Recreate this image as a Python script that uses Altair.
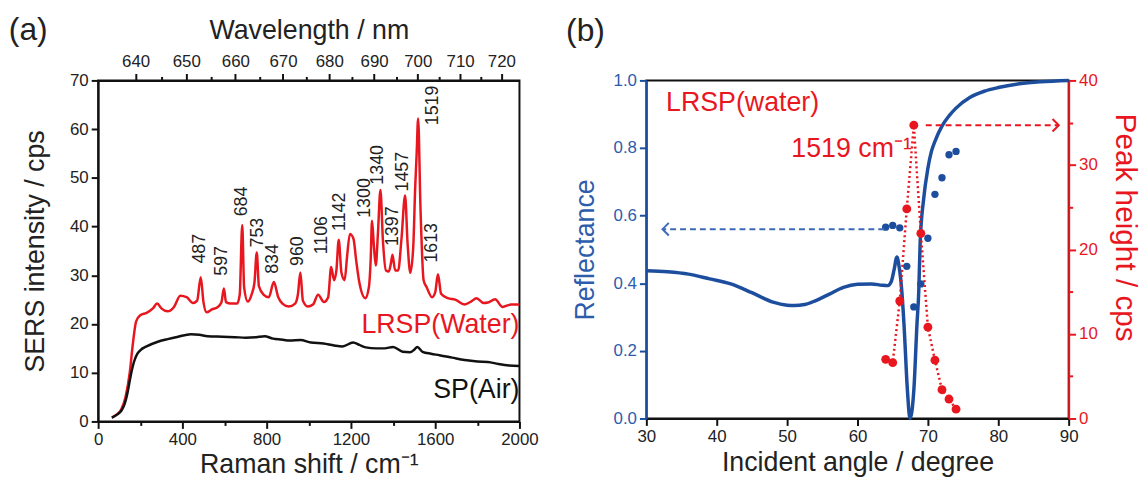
import altair as alt
import pandas as pd

FONT = "Liberation Sans"
RED = "#e8171f"
BLUE = "#1d4e9e"
BLUE_TXT = "#2d5cab"

# ---------------- panel (a): SERS spectra ----------------
raman_lrsp = [65, 90, 110, 130, 150, 165, 180, 200, 230, 260, 280, 300, 330, 360, 390, 420, 450, 470,
              487, 500, 515, 540, 565, 585, 597, 607, 630, 660, 672, 684, 693, 710, 728, 742, 753, 763,
              786, 810, 834, 855, 875, 905, 935, 948, 960, 972, 995, 1020, 1044, 1072, 1092, 1106, 1120,
              1131, 1142, 1155, 1170, 1182, 1195, 1212, 1225, 1240, 1268, 1285, 1294, 1300, 1309, 1318,
              1328, 1340, 1352, 1366, 1380, 1390, 1397, 1410, 1424, 1440, 1457, 1469, 1482, 1496, 1505,
              1512, 1519, 1530, 1545, 1560, 1585, 1600, 1613, 1628, 1660, 1695, 1740, 1770, 1796, 1830,
              1850, 1884, 1920, 1960, 2000]
int_lrsp = [0.8, 1.5, 2.5, 5.0, 10.0, 16.0, 20.5, 21.8, 22.3, 23.2, 24.2, 23.2, 22.6, 23.5, 25.8, 25.5,
            24.3, 24.8, 29.6, 24.5, 22.4, 23.0, 23.4, 24.4, 27.3, 24.5, 24.2, 24.2, 26.0, 40.3, 27.5,
            24.6, 26.0, 28.5, 34.7, 27.8, 26.0, 25.5, 28.6, 25.5, 24.2, 23.6, 24.2, 26.0, 30.6, 24.8,
            23.6, 24.0, 26.0, 24.5, 25.5, 31.7, 29.0, 31.0, 37.3, 30.5, 29.0, 34.0, 38.5, 37.5, 33.0,
            28.5, 25.3, 27.5, 33.5, 41.2, 36.0, 32.0, 38.5, 47.5, 37.0, 31.0, 30.8, 32.5, 34.2, 31.0,
            31.0, 37.5, 46.4, 36.5, 30.5, 36.0, 48.0, 55.0, 62.2, 44.0, 29.0, 27.5, 25.5, 26.5, 30.2,
            26.2, 25.3, 25.0, 24.0, 24.6, 25.3, 24.3, 24.4, 25.1, 23.5, 24.0, 24.0]

raman_sp = [65, 90, 110, 125, 140, 155, 170, 185, 200, 230, 280, 330, 380, 440, 480, 520, 590, 650,
            700, 750, 790, 830, 870, 910, 960, 1010, 1070, 1120, 1160, 1210, 1240, 1270, 1320, 1360,
            1400, 1445, 1480, 1500, 1515, 1540, 1580, 1620, 1680, 1740, 1800, 1850, 1900, 1950, 2000]
int_sp = [0.8, 1.4, 2.2, 3.5, 6.0, 9.5, 12.2, 13.8, 14.6, 15.4, 16.3, 16.9, 17.4, 17.9, 17.8, 17.5,
          17.4, 17.3, 17.2, 17.3, 17.5, 17.0, 16.8, 16.6, 16.7, 16.2, 16.0, 15.6, 15.4, 16.2, 15.7,
          15.2, 15.0, 15.0, 15.3, 14.3, 14.2, 14.7, 15.3, 14.3, 13.9, 13.6, 13.1, 12.6, 12.3, 12.2,
          11.8, 11.5, 11.4]

peak_labels = ["487", "597", "684", "753", "834", "960", "1106", "1142", "1300", "1340", "1397",
               "1457", "1519", "1613"]
peak_label_x = [485, 587, 681, 759, 830, 947, 1065, 1147, 1269, 1329, 1402, 1449, 1591, 1583]
peak_label_y = [32.4, 29.9, 42.1, 35.7, 30.3, 31.9, 34.3, 39.1, 41.8, 48.6, 36.0, 47.2, 60.8, 32.6]

wavelength_ticks = list(range(640, 725, 5))
EXCITATION_NM = 632.8

# ---------------- panel (b): reflectance & peak height ----------------
angle_curve = [30, 33, 36, 39, 42, 45, 48, 50, 51, 52.5, 54, 56, 58, 60, 62, 63.5, 64.3, 64.8, 65.2,
               65.6, 65.9, 66.3, 66.6, 67.1, 67.45, 68.0, 68.45, 68.7, 68.9, 69.4, 70.0, 70.5, 71.0,
               72.0, 73.0, 74.0, 76.0, 78.0, 80.0, 83.0, 86.0, 90.0]
refl_curve = [0.437, 0.434, 0.427, 0.413, 0.398, 0.372, 0.344, 0.335, 0.334, 0.337, 0.348, 0.368,
              0.388, 0.397, 0.398, 0.394, 0.393, 0.405, 0.44, 0.478, 0.45, 0.375, 0.28, 0.08, 0.0,
              0.083, 0.28, 0.375, 0.52, 0.65, 0.74, 0.79, 0.82, 0.865, 0.895, 0.918, 0.95, 0.968,
              0.979, 0.99, 0.996, 1.0]

angle_meas = [64, 65, 66, 67, 68, 69, 70, 71, 72, 73, 74]
refl_meas = [0.566, 0.571, 0.564, 0.45, 0.33, 0.398, 0.533, 0.663, 0.712, 0.78, 0.79]
peak_height = [7.0, 6.6, 13.9, 24.8, 34.7, 21.9, 10.8, 6.9, 3.4, 2.3, 1.1]

# ---------------- shared axis styling ----------------
LBL = 17
TTL = 27


def cond(test, big, small):
    return {"condition": {"test": test, "value": big}, "value": small}


# ================= panel (a) =================
xa = alt.Scale(domain=[0, 2000], nice=False, zero=False)
ya = alt.Scale(domain=[0, 70], nice=False)

x_axis_a = alt.Axis(values=list(range(0, 2001, 200)), format="d",
                    labelExpr="datum.value % 400 == 0 ? datum.label : ''",
                    tickSize=cond("datum.value % 400 == 0", 7, 4),
                    title="Raman shift / cm⁻¹", titlePadding=5)
y_axis_a = alt.Axis(values=list(range(0, 71, 5)),
                    labelExpr="datum.value % 10 == 0 ? datum.label : ''",
                    tickSize=cond("datum.value % 10 == 0", 7, 4),
                    title="SERS intensity / cps", titlePadding=20)

exc = 1e7 / EXCITATION_NM
top_vals = [exc - 1e7 / w for w in wavelength_ticks]
wl_expr = f"round(1e7 / ({exc:.4f} - datum.value))"
x_axis_top = alt.Axis(orient="top", values=top_vals,
                      labelExpr=f"{wl_expr} % 10 == 0 ? format({wl_expr}, 'd') : ''",
                      tickSize=cond(f"{wl_expr} % 10 == 0", 7, 4),
                      title="Wavelength / nm", titlePadding=8)

df_l = pd.DataFrame({"x": raman_lrsp, "y": int_lrsp})
df_s = pd.DataFrame({"x": raman_sp, "y": int_sp})
df_pk = pd.DataFrame({"x": peak_label_x, "y": peak_label_y, "t": peak_labels})

red_a = alt.Chart(df_l).mark_line(color=RED, strokeWidth=2.5, interpolate="monotone").encode(
    x=alt.X("x:Q", scale=xa, axis=x_axis_a), y=alt.Y("y:Q", scale=ya, axis=y_axis_a))
black_a = alt.Chart(df_s).mark_line(color="#111111", strokeWidth=2.5, interpolate="monotone").encode(
    x="x:Q", y="y:Q")
pk_a = alt.Chart(df_pk).mark_text(angle=270, align="left", baseline="middle", fontSize=18,
                                  font=FONT, color="#222222").encode(x="x:Q", y="y:Q", text="t:N")

ann_a = pd.DataFrame({"x": [2000, 2000], "y": [18.1, 4.9], "t": ["LRSP(Water)", "SP(Air)"],
                      "c": [RED, "#111111"]})
txt_a = alt.Chart(ann_a).mark_text(align="right", baseline="alphabetic", fontSize=27, font=FONT).encode(
    x="x:Q", y="y:Q", text="t:N", color=alt.Color("c:N", scale=None))
lab_a = alt.Chart(pd.DataFrame({"x": [-424], "y": [78.3], "t": ["(a)"]})).mark_text(
    align="left", baseline="alphabetic", fontSize=32, font=FONT, color="#222222").encode(
    x="x:Q", y="y:Q", text="t:N")

main_a = alt.layer(red_a, black_a, pk_a, txt_a, lab_a)
top_a = alt.Chart(df_l).mark_line(opacity=0).encode(
    x=alt.X("x:Q", scale=xa, axis=x_axis_top), y=alt.Y("y:Q", scale=ya))

panel_a = alt.layer(main_a, top_a).resolve_axis(x="independent").properties(width=425, height=344)

# ================= panel (b) =================
xb = alt.Scale(domain=[30, 90], nice=False, zero=False)
yb = alt.Scale(domain=[0, 1], nice=False)
yr = alt.Scale(domain=[0, 40], nice=False)

x_axis_b = alt.Axis(values=list(range(30, 91, 5)),
                    labelExpr="datum.value % 10 == 0 ? datum.label : ''",
                    tickSize=cond("datum.value % 10 == 0", 7, 4),
                    title="Incident angle / degree", titlePadding=5)
y_axis_b = alt.Axis(values=[round(i * 0.1, 1) for i in range(11)],
                    labelExpr="round(datum.value * 10) % 2 == 0 ? format(datum.value, '.1f') : ''",
                    tickSize=cond("round(datum.value * 10) % 2 == 0", 7, 4),
                    title="Reflectance", titlePadding=14, domainColor=BLUE, tickColor=BLUE,
                    labelColor=BLUE_TXT, titleColor=BLUE_TXT)
y_axis_r = alt.Axis(orient="right", values=list(range(0, 41, 5)),
                    labelExpr="datum.value % 10 == 0 ? datum.label : ''",
                    tickSize=cond("datum.value % 10 == 0", 7, 4),
                    title="Peak height / cps", titlePadding=12, titleFontSize=30, titleY=148,
                    domainColor=RED, tickColor=RED, labelColor=RED, titleColor=RED)

df_c = pd.DataFrame({"x": angle_curve, "y": refl_curve})
df_m = pd.DataFrame({"x": angle_meas, "r": refl_meas, "p": peak_height})

blue_line = alt.Chart(df_c).mark_line(color=BLUE, strokeWidth=3.5, interpolate="monotone").encode(
    x=alt.X("x:Q", scale=xb, axis=x_axis_b), y=alt.Y("y:Q", scale=yb, axis=y_axis_b))
blue_dots = alt.Chart(df_m).mark_circle(color=BLUE, size=55, opacity=1).encode(x="x:Q", y="r:Q")
blue_arrow = alt.Chart(pd.DataFrame({"x": [63.8], "x2": [32.3], "y": [0.56]})).mark_rule(
    color="#3d6ab8", strokeWidth=2, strokeDash=[6, 4]).encode(x="x:Q", x2="x2", y="y:Q")
blue_head = alt.Chart(pd.DataFrame({"x": [32.3], "y": [0.56]})).mark_point(
    shape="M1,-1L0,0L1,1", filled=False, size=160, strokeWidth=2, color="#3d6ab8", opacity=1).encode(
    x="x:Q", y="y:Q")
ann_b = pd.DataFrame({"x": [32.8, 50.6, 18.6], "y": [0.91, 0.772, 1.116],
                      "t": ["LRSP(water)", "1519 cm⁻¹", "(b)"], "c": [RED, RED, "#222222"],
                      "s": [27, 27, 32]})
txt_b = alt.Chart(ann_b).mark_text(align="left", baseline="alphabetic", font=FONT).encode(
    x="x:Q", y="y:Q", text="t:N", color=alt.Color("c:N", scale=None),
    size=alt.Size("s:Q", scale=None))

left_b = alt.layer(blue_line, blue_dots, blue_arrow, blue_head, txt_b)

red_line = alt.Chart(df_m).mark_line(color=RED, strokeWidth=2.5, strokeDash=[2, 3]).encode(
    x=alt.X("x:Q", scale=xb), y=alt.Y("p:Q", scale=yr, axis=y_axis_r))
red_dots = alt.Chart(df_m).mark_circle(color=RED, size=80, opacity=1).encode(x="x:Q", y="p:Q")
red_arrow = alt.Chart(pd.DataFrame({"x": [69.7], "x2": [88.6], "y": [34.7]})).mark_rule(
    color=RED, strokeWidth=2, strokeDash=[6, 4]).encode(x="x:Q", x2="x2", y="y:Q")
red_head = alt.Chart(pd.DataFrame({"x": [88.6], "y": [34.7]})).mark_point(
    shape="M-1,-1L0,0L-1,1", filled=False, size=160, strokeWidth=2, color=RED, opacity=1).encode(
    x="x:Q", y="y:Q")
right_b = alt.layer(red_line, red_dots, red_arrow, red_head)

panel_b = alt.layer(left_b, right_b).resolve_scale(y="independent").properties(width=426, height=341)

chart = alt.hconcat(panel_a, panel_b, spacing=26).properties(
    padding={"left": 7, "top": 11, "right": 5, "bottom": 5}
).configure_view(stroke="#111111", strokeWidth=2).configure_axis(
    grid=False, labelFont=FONT, titleFont=FONT, labelFontSize=LBL, titleFontSize=TTL,
    titleFontWeight="normal", labelColor="#222222", titleColor="#222222", domainColor="#111111",
    tickColor="#111111", domainWidth=2, tickWidth=2, labelPadding=3, labelFlush=False,
    labelOverlap=False)

chart.save("out.html", embed_options={"renderer": "svg", "actions": False})
